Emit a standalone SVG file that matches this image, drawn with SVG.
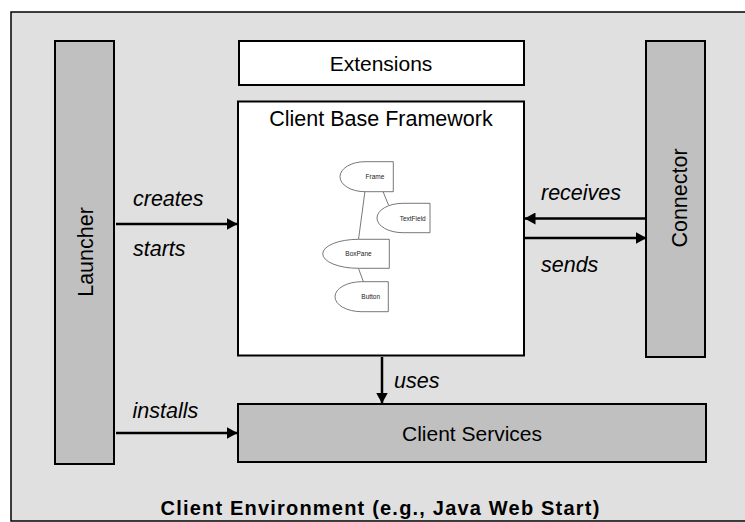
<svg xmlns="http://www.w3.org/2000/svg" width="745" height="522" viewBox="0 0 745 522">
<style>
.box{stroke:#000;stroke-width:2}
.white{fill:#fff}
.gray{fill:#c0c0c0}
.t{font-family:"Liberation Sans",Arial,sans-serif;fill:#000}
.lbl{font-family:"Liberation Sans",Arial,sans-serif;font-style:italic;font-size:21.5px;fill:#000}
.conn{stroke:#000;stroke-width:2.5;fill:none;marker-end:url(#ah)}
.gn{fill:#fff;stroke:#555;stroke-width:0.8}
.ge{stroke:#555;stroke-width:0.8;fill:none}
.gt{font-family:"Liberation Sans Narrow","Liberation Sans",Arial,sans-serif;font-size:6.5px;fill:#222;text-anchor:middle}
</style>
<defs>
<marker id="ah" viewBox="0 0 11 12" refX="10.5" refY="6" markerWidth="11" markerHeight="12" markerUnits="userSpaceOnUse" orient="auto">
<path d="M0,0 L11,6 L0,12 z" fill="#000"/>
</marker>
</defs>
<rect id="env" x="11" y="12" width="740" height="509" fill="#e0e0e0" stroke="#000" stroke-width="1.5"/>
<g id="launcher">
<rect class="box gray" x="55" y="41" width="59" height="423"/>
<text class="t" font-size="21.5" text-anchor="middle" transform="translate(92.5,252) rotate(-90)">Launcher</text>
</g>
<g id="extensions">
<rect class="box white" x="239" y="41" width="285" height="44"/>
<text class="t" font-size="21" x="381" y="70.5" text-anchor="middle">Extensions</text>
</g>
<g id="framework">
<rect class="box white" x="238" y="101.5" width="286" height="254"/>
<text class="t" font-size="21.5" x="381" y="126" text-anchor="middle">Client Base Framework</text>
<g id="mini-graph">
<path class="ge" d="M365,191 L358.5,239.5"/>
<path class="ge" d="M383,191.5 L388.5,205"/>
<path class="ge" d="M358.5,268.5 L363.5,282"/>
<path class="gn" d="M393.3,161.7 L365,161.7 A25,15 0 0 0 365,191.7 L393.3,191.7 Z"/>
<text class="gt" x="375" y="179">Frame</text>
<path class="gn" d="M430,203.3 L403,203.3 A26,14.7 0 0 0 403,232.7 L430,232.7 Z"/>
<text class="gt" x="412.7" y="220.5">TextField</text>
<path class="gn" d="M389.3,239.3 L358.3,239.3 A35.6,14.5 0 0 0 358.3,268.3 L389.3,268.3 Z"/>
<text class="gt" x="358.5" y="256.3">BoxPane</text>
<path class="gn" d="M388.3,281.7 L361.7,281.7 A26.7,15 0 0 0 361.7,311.7 L388.3,311.7 Z"/>
<text class="gt" x="370.7" y="299">Button</text>
</g>
</g>
<g id="connector">
<rect class="box gray" x="646" y="41" width="59" height="316"/>
<text class="t" font-size="21.5" text-anchor="middle" transform="translate(686.5,198) rotate(-90)">Connector</text>
</g>
<g id="services">
<rect class="box gray" x="238" y="404" width="468" height="58"/>
<text class="t" font-size="21" x="472" y="440.5" text-anchor="middle">Client Services</text>
</g>
<g id="connectors">
<path class="conn" d="M116,224 L237,224"/>
<path class="conn" d="M646,218.5 L525,218.5"/>
<path class="conn" d="M525,238 L646,238"/>
<path class="conn" d="M382,357 L382,403"/>
<path class="conn" d="M116,433 L237,433"/>
<text class="lbl" x="133" y="206">creates</text>
<text class="lbl" x="133" y="256">starts</text>
<text class="lbl" x="541" y="199.5">receives</text>
<text class="lbl" x="541" y="271.5">sends</text>
<text class="lbl" x="394" y="388">uses</text>
<text class="lbl" x="132.5" y="417.5">installs</text>
</g>
<text class="t" font-size="20" font-weight="bold" letter-spacing="1.2" x="380.5" y="515" text-anchor="middle">Client Environment (e.g., Java Web Start)</text>
</svg>
